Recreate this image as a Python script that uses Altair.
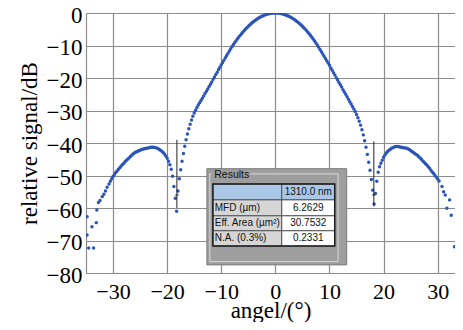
import altair as alt
import pandas as pd

# ---------------- data ----------------
main_angle = [-18.25, -18.0, -17.75, -17.5, -17.25, -17.0, -16.75, -16.5, -16.25, -16.0,
              -15.75, -15.5, -15.25, -15.0, -14.75, -14.5, -14.25, -14.0, -13.75, -13.5,
              -13.25, -13.0, -12.75, -12.5, -12.25, -12.0, -11.75, -11.5, -11.25, -11.0,
              -10.75, -10.5, -10.25, -10.0, -9.75, -9.5, -9.25, -9.0, -8.75, -8.5,
              -8.25, -8.0, -7.75, -7.5, -7.25, -7.0, -6.75, -6.5, -6.25, -6.0,
              -5.75, -5.5, -5.25, -5.0, -4.75, -4.5, -4.25, -4.0, -3.75, -3.5,
              -3.25, -3.0, -2.75, -2.5, -2.25, -2.0, -1.75, -1.5, -1.25, -1.0,
              -0.75, -0.5, -0.25, 0.0, 0.25, 0.5, 0.75, 1.0, 1.25, 1.5,
              1.75, 2.0, 2.25, 2.5, 2.75, 3.0, 3.25, 3.5, 3.75, 4.0,
              4.25, 4.5, 4.75, 5.0, 5.25, 5.5, 5.75, 6.0, 6.25, 6.5,
              6.75, 7.0, 7.25, 7.5, 7.75, 8.0, 8.25, 8.5, 8.75, 9.0,
              9.25, 9.5, 9.75, 10.0, 10.25, 10.5, 10.75, 11.0, 11.25, 11.5,
              11.75, 12.0, 12.25, 12.5, 12.75, 13.0, 13.25, 13.5, 13.75, 14.0,
              14.25, 14.5, 14.75, 15.0, 15.25, 15.5, 15.75, 16.0, 16.25, 16.5,
              16.75, 17.0, 17.25, 17.5, 17.75, 18.0, 18.25]
main_db = [-61.0, -54.8, -51.0, -48.2, -45.6, -43.2, -41.0, -39.0, -37.2, -35.6,
           -34.2, -32.9, -31.8, -30.8, -29.9, -29.1, -28.3, -27.6, -26.9, -26.2,
           -25.5, -24.8, -24.1, -23.4, -22.6, -21.9, -21.2, -20.4, -19.7, -18.9,
           -18.2, -17.4, -16.7, -15.9, -15.2, -14.5, -13.8, -13.1, -12.4, -11.7,
           -11.0, -10.3, -9.7, -9.1, -8.5, -7.95, -7.4, -6.88, -6.37, -5.87,
           -5.4, -4.94, -4.5, -4.08, -3.68, -3.31, -2.95, -2.61, -2.3, -2.0,
           -1.72, -1.47, -1.23, -1.02, -0.83, -0.65, -0.5, -0.37, -0.26, -0.16,
           -0.09, -0.04, -0.01, 0.0, -0.01, -0.04, -0.09, -0.16, -0.26, -0.37,
           -0.5, -0.66, -0.83, -1.03, -1.24, -1.48, -1.73, -2.01, -2.31, -2.62,
           -2.96, -3.32, -3.7, -4.1, -4.52, -4.96, -5.42, -5.9, -6.41, -6.93,
           -7.47, -8.04, -8.62, -9.23, -9.85, -10.5, -11.2, -11.9, -12.6, -13.3,
           -14.0, -14.7, -15.4, -16.1, -16.9, -17.6, -18.4, -19.1, -19.9, -20.6,
           -21.4, -22.1, -22.8, -23.6, -24.3, -25.0, -25.8, -26.5, -27.3, -28.0,
           -28.8, -29.5, -30.3, -31.2, -32.2, -33.3, -34.5, -35.9, -37.5, -39.3,
           -41.3, -43.5, -45.9, -48.4, -51.2, -54.5, -58.8]

left_lobe_angle = [-30.5, -30.25, -30.0, -29.75, -29.5, -29.25, -29.0, -28.75, -28.5, -28.25,
                   -28.0, -27.75, -27.5, -27.25, -27.0, -26.75, -26.5, -26.25, -26.0, -25.75,
                   -25.5, -25.25, -25.0, -24.75, -24.5, -24.25, -24.0, -23.75, -23.5, -23.25,
                   -23.0, -22.75, -22.5, -22.25, -22.0, -21.75, -21.5, -21.25, -21.0, -20.75,
                   -20.5, -20.25, -20.0, -19.75, -19.5, -19.25, -19.0, -18.75, -18.5]
left_lobe_db = [-51.8, -51.0, -50.3, -49.7, -49.1, -48.6, -48.1, -47.6, -47.1, -46.6,
                -46.2, -45.7, -45.3, -44.9, -44.5, -44.1, -43.7, -43.3, -43.0, -42.8,
                -42.6, -42.4, -42.2, -42.0, -41.9, -41.8, -41.7, -41.6, -41.5, -41.4,
                -41.3, -41.3, -41.3, -41.4, -41.5, -41.7, -41.9, -42.2, -42.5, -42.9,
                -43.4, -44.0, -44.7, -45.6, -46.7, -48.1, -50.2, -53.4, -57.0]

right_lobe_angle = [18.5, 18.75, 19.0, 19.25, 19.5, 19.75, 20.0, 20.25, 20.5, 20.75,
                    21.0, 21.25, 21.5, 21.75, 22.0, 22.25, 22.5, 22.75, 23.0, 23.25,
                    23.5, 23.75, 24.0, 24.25, 24.5, 24.75, 25.0, 25.25, 25.5, 25.75,
                    26.0, 26.25, 26.5, 26.75, 27.0, 27.25, 27.5, 27.75, 28.0, 28.25,
                    28.5, 28.75, 29.0, 29.25, 29.5, 29.75, 30.0, 30.25]
right_lobe_db = [-55.5, -51.8, -49.0, -47.3, -46.2, -45.3, -44.4, -43.7, -43.1, -42.6,
                 -42.2, -41.9, -41.6, -41.4, -41.2, -41.1, -41.1, -41.1, -41.2, -41.3,
                 -41.4, -41.5, -41.5, -41.6, -41.8, -42.0, -42.3, -42.6, -42.9, -43.2,
                 -43.5, -43.8, -44.2, -44.6, -45.0, -45.5, -45.9, -46.4, -46.8, -47.3,
                 -47.8, -48.4, -48.9, -49.4, -50.0, -50.5, -51.1, -51.7]

left_tail_angle = [-30.75, -31.1, -31.4, -31.7, -32.0, -32.4, -32.7, -33.0, -33.1, -33.9,
                   -34.8, -34.8, -34.5, -33.6]
left_tail_db = [-52.6, -53.6, -54.8, -55.8, -56.5, -57.7, -58.3, -60.6, -64.5, -65.8,
                -62.7, -68.3, -72.3, -72.3]

right_tail_angle = [30.8, 31.1, 31.4, 31.7, 32.2, 32.5, 33.1]
right_tail_db = [-53.4, -55.0, -56.0, -60.1, -57.5, -62.2, -71.9]

# vertical marker lines near the nulls
marker_angle = [-18.2, 18.2]
marker_top = [-39.0, -39.5]
marker_bottom = [-60.0, -59.5]
marker_mid = [-56.0, -56.0]

# "Results" inset table
result_header = "1310.0 nm"
result_labels = ["MFD (µm)", "Eff. Area (µm²)", "N.A. (0.3%)"]
result_values = ["6.2629", "30.7532", "0.2331"]

x_ticks = [-30, -20, -10, 0, 10, 20, 30]
y_ticks = [0, -10, -20, -30, -40, -50, -60, -70, -80]

# ---------------- build ----------------
SERIF = "Liberation Serif"
SANS = "Liberation Sans"
GRID = "#8c8c8c"

angle = main_angle + left_lobe_angle + right_lobe_angle + left_tail_angle + right_tail_angle
db = main_db + left_lobe_db + right_lobe_db + left_tail_db + right_tail_db
df = pd.DataFrame({"angle": angle, "db": db})

xs = alt.Scale(domain=[-35, 33.2], nice=False, zero=False)
ys = alt.Scale(domain=[-80, 0], nice=False, zero=False)

x_axis = alt.Axis(values=x_ticks, title="angel/(°)", grid=True, gridColor=GRID, gridWidth=1.2,
                  domainColor=GRID, domainWidth=1.2, ticks=False, labelFont=SERIF,
                  labelFontSize=22, labelColor="black", labelPadding=8, labelOverlap=False,
                  labelFlush=False, titleFont=SERIF, titleFontSize=23, titleFontWeight="normal",
                  titleColor="black", titleY=44, titleBaseline="alphabetic")
y_axis = alt.Axis(values=y_ticks, title="relative signal/dB", grid=True, gridColor=GRID,
                  gridWidth=1.2, domainColor=GRID, domainWidth=1.2, ticks=False,
                  labelFont=SERIF, labelFontSize=23, labelColor="black", labelPadding=4,
                  labelOffset=2, labelOverlap=False, labelFlush=False, titleFont=SERIF,
                  titleFontSize=23, titleFontWeight="normal", titleColor="black",
                  titleX=-50, titleAngle=-90, titleBaseline="alphabetic")


def X(field):
    return alt.X(field, scale=xs, axis=x_axis)


def Y(field):
    return alt.Y(field, scale=ys, axis=y_axis)


points = alt.Chart(df).mark_circle(size=12, color="#2b55b8", opacity=1, clip=True).encode(
    x=X("angle:Q"), y=Y("db:Q"))

mk = pd.DataFrame({"a": marker_angle, "top": marker_top, "bot": marker_bottom,
                   "mid": marker_mid,
                   "a1": [a - 0.3 for a in marker_angle], "a2": [a + 0.3 for a in marker_angle]})
marker_lines = alt.Chart(mk).mark_rule(color="#222222", strokeWidth=1).encode(
    x=X("a:Q"), y=Y("top:Q"), y2="bot:Q")
marker_cross = alt.Chart(mk).mark_rule(color="#222222", strokeWidth=1).encode(
    x=X("a1:Q"), x2="a2:Q", y=Y("mid:Q"))

# inset geometry in data coordinates (deg, dB)
panel = pd.DataFrame({"x": [-12.66], "x2": [13.18], "y": [-47.9], "y2": [-77.5]})
gbox = pd.DataFrame({"x": [-12.11], "x2": [11.6], "y": [-49.5], "y2": [-76.5]})
gbox_gap = pd.DataFrame({"x": [-11.8], "x2": [-4.6], "y": [-48.8], "y2": [-50.3]})
row_edges = [-52.6, -57.5, -62.4, -67.0, -71.7]
col_edges = [-11.55, 1.18, 10.97]
cells = pd.DataFrame({
    "x": [col_edges[0], col_edges[1]] + [col_edges[0]] * 3 + [col_edges[1]] * 3,
    "x2": [col_edges[1], col_edges[2]] + [col_edges[1]] * 3 + [col_edges[2]] * 3,
    "y": [row_edges[0], row_edges[0]] + row_edges[1:4] + row_edges[1:4],
    "y2": [row_edges[1], row_edges[1]] + row_edges[2:5] + row_edges[2:5],
    "fill": ["#aac8e6", "#aac8e6"] + ["#d6d6d6"] * 3 + ["#ffffff"] * 3,
})
table_box = pd.DataFrame({"x": [col_edges[0]], "x2": [col_edges[2]],
                          "y": [row_edges[0]], "y2": [row_edges[4]]})
row_mid = [(row_edges[i] + row_edges[i + 1]) / 2 for i in range(4)]
lab_df = pd.DataFrame({"x": [-11.2] * 3, "y": row_mid[1:], "t": result_labels})
val_df = pd.DataFrame({"x": [6.08] * 4, "y": row_mid, "t": [result_header] + result_values})
title_df = pd.DataFrame({"x": [-11.3], "y": [-49.7], "t": ["Results"]})


def rect(d, **kw):
    return alt.Chart(d).mark_rect(**kw).encode(
        x=X("x:Q"), x2="x2:Q", y=Y("y:Q"), y2="y2:Q")


def text(d, **kw):
    return alt.Chart(d).mark_text(baseline="middle", font=SANS, color="#111111", **kw).encode(
        x=X("x:Q"), y=Y("y:Q"), text="t:N")


l_panel = rect(panel, fill="#9e9e9e", stroke="#7c7c7c", strokeWidth=1)
l_gbox = rect(gbox, fillOpacity=0, stroke="#d9d9d9", strokeWidth=1)
l_gap = rect(gbox_gap, fill="#9e9e9e")
l_cells = alt.Chart(cells).mark_rect(stroke="#555555", strokeWidth=1).encode(
    x=X("x:Q"), x2="x2:Q", y=Y("y:Q"), y2="y2:Q",
    fill=alt.Fill("fill:N", scale=None))
l_tbox = rect(table_box, fillOpacity=0, stroke="#1e1e1e", strokeWidth=1.5)
l_labels = text(lab_df, align="left", fontSize=10)
l_values = text(val_df, align="center", fontSize=10)
l_title = text(title_df, align="left", fontSize=10.5)

chart = alt.layer(
    points, marker_lines, marker_cross,
    l_panel, l_gbox, l_gap, l_cells, l_tbox, l_labels, l_values, l_title,
).properties(
    width=369, height=260,
    padding={"left": 78, "top": 5, "right": 0, "bottom": 49},
    autosize=alt.AutoSizeParams(type="none"),
    background="white",
).configure_view(stroke=None).configure_axis(
    labelFont=SERIF, titleFont=SERIF, labelFontSize=23, titleFontSize=23,
    titleFontWeight="normal", labelColor="black", titleColor="black",
)

chart.save("out.html", embed_options={"renderer": "svg", "actions": False})
